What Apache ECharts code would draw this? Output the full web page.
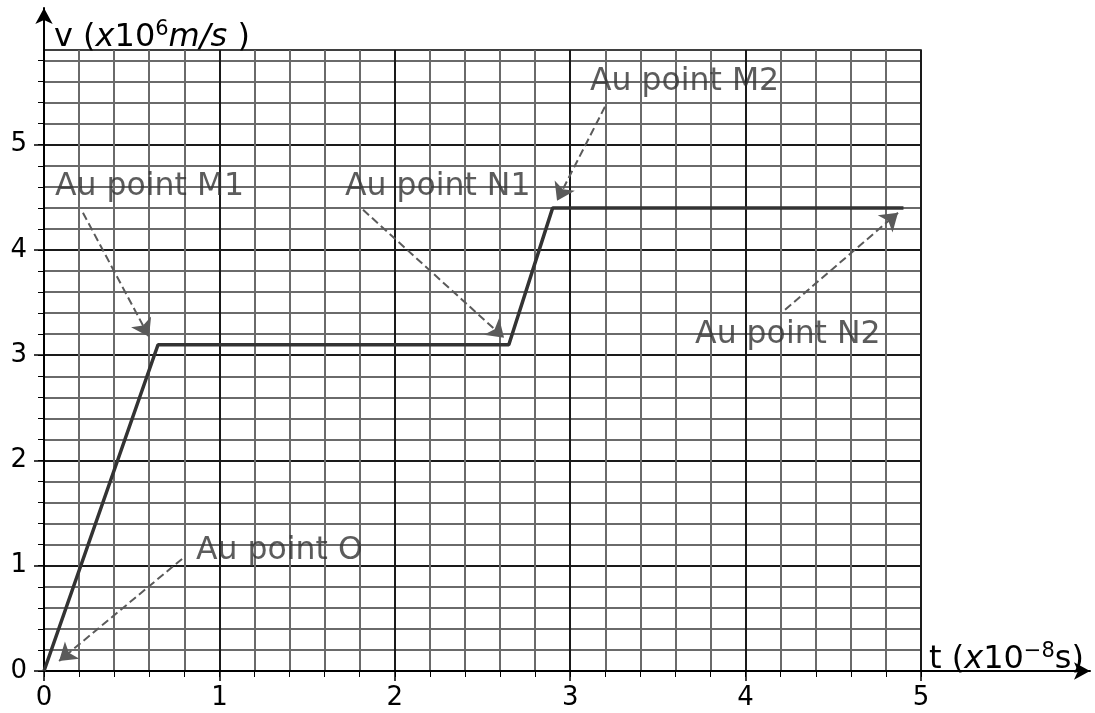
<!DOCTYPE html>
<html>
<head>
<meta charset="utf-8">
<script src="https://cdn.jsdelivr.net/npm/echarts@6/dist/echarts.min.js"></script>
<style>
  html, body { margin: 0; background: #fff; }
  #chart { width: 1095px; height: 713px; }
</style>
</head>
<body>
<div id="chart"></div>
<script>
// v(t)
const timeValues = [0, 0.65, 2.65, 2.9, 4.9];
const speedValues = [0, 3.1, 3.1, 4.4, 4.4];
const xTicks = [0, 1, 2, 3, 4, 5];
const yTicks = [0, 1, 2, 3, 4, 5];
const noteTexts = ['Au point O', 'Au point M1', 'Au point N1', 'Au point M2', 'Au point N2'];

// where each note sits and where its arrow goes (data units)
const noteLayout = [
  { text: [0.867, 1.141], from: [0.787, 1.065], to: [0.086, 0.095] },
  { text: [0.063, 4.6], from: [0.222, 4.354], to: [0.599, 3.175] },
  { text: [1.716, 4.6], from: [1.819, 4.382], to: [2.623, 3.165] },
  { text: [3.113, 5.6], from: [3.198, 5.361], to: [2.925, 4.468] },
  { text: [3.712, 3.194], from: [4.225, 3.432], to: [4.869, 4.354] },
];

const font = 'DejaVu Sans';
const xMax = 5;
const yMax = 5.9;

const xMinor = [];
for (let i = 0; i <= 25; i++) xMinor.push(i / 5);
const yMinor = [];
for (let i = 0; i <= 29; i++) yMinor.push(i / 5);

const isWhole = (v) => Math.abs(v - Math.round(v)) < 1e-6;

const nameRich = {
  n: { fontFamily: font, fontSize: 32, color: '#000', lineHeight: 38 },
  i: { fontFamily: font, fontSize: 32, color: '#000', lineHeight: 38, fontStyle: 'italic' },
  s: { fontFamily: font, fontSize: 21, color: '#000', lineHeight: 22, verticalAlign: 'top' },
};

const chart = echarts.init(document.getElementById('chart'));

chart.setOption({
  animation: false,
  grid: [
    {
      left: 44, right: 174, top: 50, bottom: 42,
      show: true, borderColor: '#000', borderWidth: 1.5,
      outerBoundsMode: 'none',
    },
    { left: 44, right: 5, top: 8, bottom: 42, outerBoundsMode: 'none' },
  ],
  xAxis: [
    {
      gridIndex: 0, type: 'value', min: 0, max: xMax, interval: 0.2,
      axisLine: { show: false },
      axisTick: { show: true, length: 6, customValues: xMinor, lineStyle: { color: '#000', width: 1 } },
      axisLabel: { show: false },
      splitLine: { show: true, lineStyle: { color: '#6a6a6a', width: 2 } },
    },
    {
      gridIndex: 0, type: 'value', min: 0, max: xMax, interval: 1, position: 'bottom',
      axisLine: { show: false },
      axisTick: { show: true, length: 10, customValues: xTicks, lineStyle: { color: '#000', width: 1.5 } },
      axisLabel: {
        customValues: xTicks, margin: 14, fontFamily: font, fontSize: 26, color: '#000',
        formatter: (v) => (isWhole(v) ? String(Math.round(v)) : ''),
      },
      splitLine: { show: true, lineStyle: { color: '#000', width: 1.5 } },
      name: '{n|t (}{i|x}{n|10}{s|\u22128}{n|s)}',
      nameLocation: 'end',
      nameGap: 8,
      nameTextStyle: { align: 'left', verticalAlign: 'bottom', padding: [0, 0, -8, 0], rich: nameRich },
    },
    {
      gridIndex: 1, type: 'value', min: 0, max: 1,
      axisLine: { show: true, symbol: ['none', 'arrow'], symbolSize: [13, 16], lineStyle: { color: '#000', width: 2 } },
      axisTick: { show: false }, axisLabel: { show: false }, splitLine: { show: false },
    },
  ],
  yAxis: [
    {
      gridIndex: 0, type: 'value', min: 0, max: yMax, interval: 0.2,
      axisLine: { show: false },
      axisTick: { show: true, length: 6, customValues: yMinor, lineStyle: { color: '#000', width: 1 } },
      axisLabel: { show: false },
      splitLine: { show: true, lineStyle: { color: '#6a6a6a', width: 2 } },
    },
    {
      gridIndex: 0, type: 'value', min: 0, max: yMax, interval: 1, position: 'left',
      axisLine: { show: false },
      axisTick: { show: true, length: 10, customValues: yTicks, lineStyle: { color: '#000', width: 1.5 } },
      axisLabel: {
        customValues: yTicks, margin: 17, fontFamily: font, fontSize: 26, color: '#000',
        formatter: (v) => (isWhole(v) ? String(Math.round(v)) : ''),
      },
      splitLine: { show: true, lineStyle: { color: '#000', width: 1.5 } },
      name: '{n|v (}{i|x}{n|10}{s|6}{i|m/s}{n| )}',
      nameLocation: 'end',
      nameGap: 0,
      nameTextStyle: { align: 'left', verticalAlign: 'bottom', padding: [0, 0, -7, 10], rich: nameRich },
    },
    {
      gridIndex: 1, type: 'value', min: 0, max: 1,
      axisLine: { show: true, symbol: ['none', 'arrow'], symbolSize: [13, 16], lineStyle: { color: '#000', width: 2 } },
      axisTick: { show: false }, axisLabel: { show: false }, splitLine: { show: false },
    },
  ],
  series: [
    {
      type: 'line',
      xAxisIndex: 1,
      yAxisIndex: 1,
      data: timeValues.map((t, i) => [t, speedValues[i]]),
      symbol: 'none',
      lineStyle: { color: '#333', width: 3.5 },
      z: 5,
      markLine: {
        silent: true,
        symbol: ['none', 'arrow'],
        symbolSize: 17,
        label: { show: false },
        lineStyle: { color: '#5a5a5a', width: 2, type: [8, 4] },
        data: noteLayout.map((n) => [{ coord: n.from }, { coord: n.to }]),
      },
    },
    {
      type: 'scatter',
      xAxisIndex: 1,
      yAxisIndex: 1,
      symbolSize: 0,
      silent: true,
      data: noteLayout.map((n, i) => ({ name: noteTexts[i], value: n.text })),
      label: {
        show: true, position: 'right', distance: 0, formatter: '{b}',
        fontFamily: font, fontSize: 31.5, color: '#333',
      },
      z: 3,
    },
  ],
});
</script>
</body>
</html>
